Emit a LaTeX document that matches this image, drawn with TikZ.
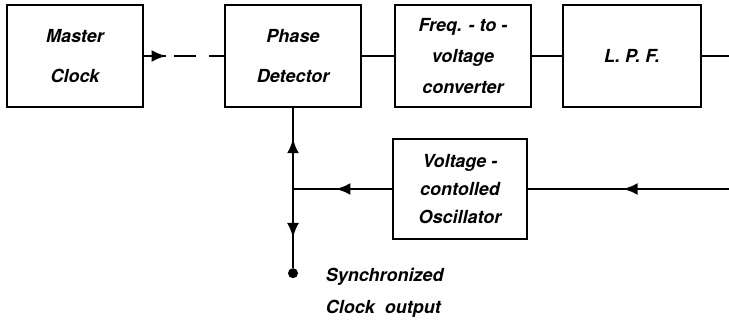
\documentclass[tikz,border=0pt]{standalone}
\usepackage{fontspec}
\setmainfont{TeX Gyre Heros}
\usetikzlibrary{arrows.meta, positioning, decorations.markings}

\begin{document}
\begin{tikzpicture}[
    x=1pt, y=-1pt,
    lbl/.style={font=\fontsize{18}{#1}\selectfont\bfseries\itshape, align=center},
    lbl/.default=40,
    block/.style={rectangle, draw, line width=2.8pt, minimum width=136pt, minimum height=102pt, inner sep=0pt},
    wire/.style={line width=2.8pt},
    midarrow/.style={postaction={decorate}, decoration={markings,
        mark=at position #1 with {\arrow{Latex[length=15pt,width=12pt]}}}}
]
\useasboundingbox (0,0) rectangle (729,324);

% ============ FORWARD PATH ============
\node[block, lbl] (clock) at (75,56) {Master\\Clock};
\node[block, lbl] (phase) at (293,56) {Phase\\Detector};
\node[block, lbl=31] (fvc) at (463,56) {Freq. - to -\\voltage\\converter};
\node[block, lbl, minimum width=138pt] (lpf) at (632,56) {L. P. F.};
\coordinate (lpfout) at (729,56);

% ============ OSCILLATOR ============
\node[block, lbl=28, minimum width=134pt, minimum height=100pt] (vco) at (460,189) {Voltage -\\contolled\\Oscillator};
\coordinate (vcoin) at (729,189);
\coordinate (tap) at (phase.south |- vco.west);

% ============ OUTPUT ============
\node[circle, fill, inner sep=0pt, minimum size=10pt, below=79pt of tap] (out) {};
\node[lbl=32, align=left, inner sep=0pt, below right=-9pt and 29pt of out] (outlbl) {Synchronized\\Clock\ \ output};

% ============ CONNECTIONS ============
\draw[wire, dash pattern=on 22pt off 8pt on 22pt off 13pt on 40pt off 0pt, midarrow=0.28] (clock.east) -- (phase.west);
\draw[wire] (phase.east) -- (fvc.west);
\draw[wire] (fvc.east) -- (lpf.west);
\draw[wire] (lpf.east) -- (lpfout);
\draw[wire, midarrow=0.53] (vcoin) -- (vco.east);
\draw[wire, midarrow=0.57] (vco.west) -- (tap);
\draw[wire, midarrow=0.63] (tap) -- (phase.south);
\draw[wire, midarrow=0.62] (tap) -- (out);

\end{tikzpicture}
\end{document}
